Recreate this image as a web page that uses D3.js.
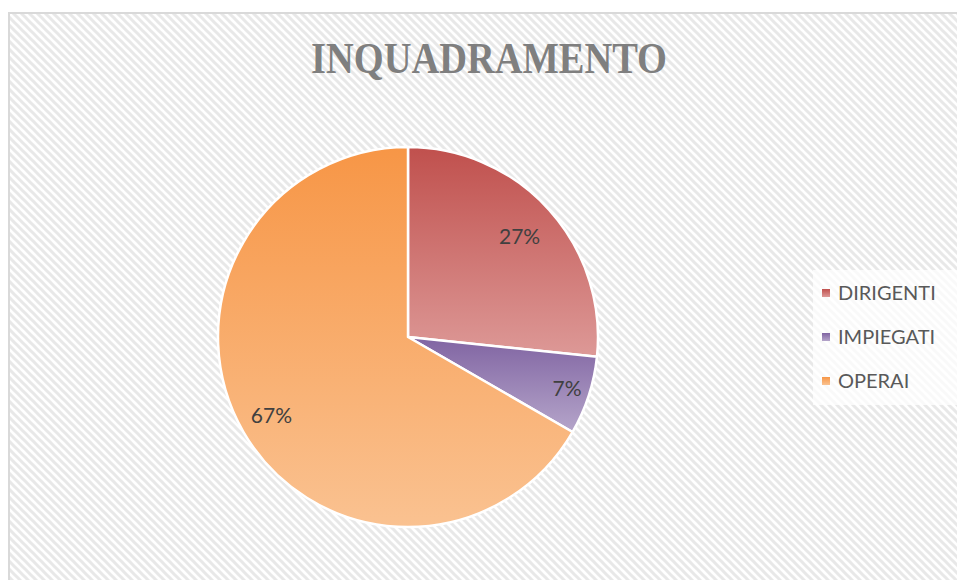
<!DOCTYPE html>
<html><head><meta charset="utf-8">
<script src="https://cdn.jsdelivr.net/npm/d3@7"></script>
<style>html,body{margin:0;padding:0;background:#fff;}svg{display:block;}</style>
</head><body>
<script>
const title = "INQUADRAMENTO";
const categories = ["DIRIGENTI", "IMPIEGATI", "OPERAI"];
const values = [4, 1, 10];
const colorsTop = ["#c0504d", "#8064a2", "#f79646"];
const colorsBottom = ["#dd9997", "#b5a5ca", "#fac291"];
const labelRadiusFactor = [0.79, 0.88, 0.83];

const W = 957, H = 580;
const svg = d3.select("body").append("svg").attr("width", W).attr("height", H);
const defs = svg.append("defs");

// hatch pattern
const pat = defs.append("pattern").attr("id","hatch").attr("patternUnits","userSpaceOnUse")
  .attr("width",8).attr("height",8);
pat.append("rect").attr("width",8).attr("height",8).attr("fill","#ffffff");
pat.append("path").attr("d","M-2,-2 L10,10 M-2,6 L2,10 M6,-2 L10,2")
  .attr("stroke","#e8e8e8").attr("stroke-width",3);

svg.append("rect").attr("width",W).attr("height",H).attr("fill","#fff");
svg.append("rect").attr("x",9).attr("y",13).attr("width",W).attr("height",H)
  .attr("fill","url(#hatch)").attr("stroke","#d9d9d9").attr("stroke-width",2);

// title
const t = svg.append("text").attr("x",489).attr("y",73).attr("text-anchor","middle")
  .attr("font-family","'Liberation Serif', 'DejaVu Serif', serif").attr("font-weight","bold")
  .attr("font-size",44).attr("fill","#7f7f7f").text(title);
t.attr("textLength",356).attr("lengthAdjust","spacingAndGlyphs");

// pie
const cx = 408, cy = 337, r = 190;
const pie = d3.pie().sort(null).value(d => d)(values);
const arc = d3.arc().innerRadius(0).outerRadius(r);
const g = svg.append("g").attr("transform",`translate(${cx},${cy})`);

categories.forEach((c,i) => {
  const lg = defs.append("linearGradient").attr("id","grad"+i)
    .attr("x1",0).attr("y1",0).attr("x2",0).attr("y2",1);
  lg.append("stop").attr("offset","0%").attr("stop-color",colorsTop[i]);
  lg.append("stop").attr("offset","100%").attr("stop-color",colorsBottom[i]);
});

g.selectAll("path.slice").data(pie).join("path").attr("class","slice")
  .attr("d",arc).attr("fill",(d,i)=>`url(#grad${i})`)
  .attr("stroke","#fff").attr("stroke-width",2.5).attr("stroke-linejoin","round");

const total = d3.sum(values);
g.selectAll("text.lbl").data(pie).join("text").attr("class","lbl")
  .attr("transform",(d,i)=>{
    const a = (d.startAngle+d.endAngle)/2, lr = r*labelRadiusFactor[i];
    return `translate(${Math.sin(a)*lr},${-Math.cos(a)*lr})`;
  })
  .attr("text-anchor","middle").attr("dy","0.35em")
  .attr("font-family","Lato, 'Open Sans', sans-serif").attr("font-size",21)
  .attr("fill","#404040")
  .text(d => Math.round(d.data/total*100) + "%");

// legend
const leg = svg.append("g");
leg.append("rect").attr("x",813).attr("y",270).attr("width",144).attr("height",135)
  .attr("fill","#fff").attr("fill-opacity",0.75);
const ly = d3.scalePoint().domain(categories).range([293, 381]);
categories.forEach((c,i)=>{
  const lgg = leg.append("g").attr("transform",`translate(822,${ly(c)})`);
  lgg.append("rect").attr("x",0).attr("y",-4).attr("width",8).attr("height",8)
    .attr("fill",`url(#grad${i})`);
  lgg.append("text").attr("x",16).attr("dy","0.36em")
    .attr("font-family","Lato, 'Open Sans', sans-serif").attr("font-size",20)
    .attr("fill","#595959").text(c);
});
</script>
</body></html>
